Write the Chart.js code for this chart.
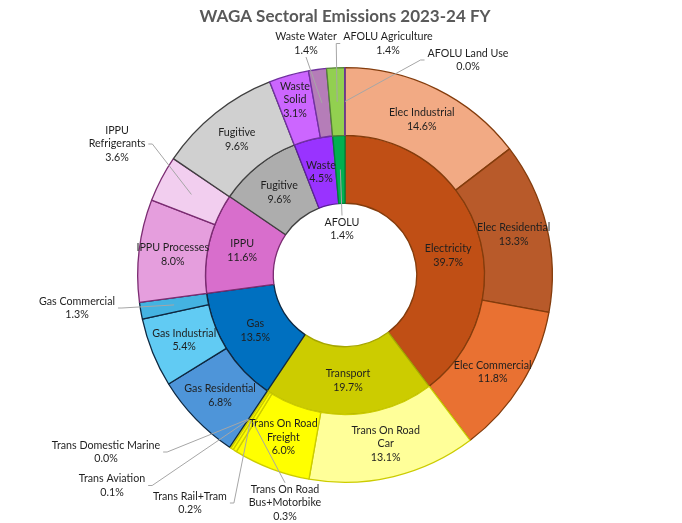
<!DOCTYPE html>
<html>
<head>
<meta charset="utf-8">
<script src="https://cdn.jsdelivr.net/npm/chart.js@4.4.1/dist/chart.umd.min.js"></script>
<style>
  html, body { margin: 0; padding: 0; background: #fff; }
  #wrap { width: 682px; height: 523px; position: relative; }
</style>
</head>
<body>
<div id="wrap"><canvas id="sunburst"></canvas></div>
<script>
// Inner ring: sectors
const sectors = ['Electricity', 'Transport', 'Gas', 'IPPU', 'Fugitive', 'Waste', 'AFOLU'];
const sectorShare = [39.7, 19.7, 13.5, 11.6, 9.6, 4.5, 1.4];

// Outer ring: sub-sectors (same clockwise order)
const subSectors = [
    'Elec Industrial', 'Elec Residential', 'Elec Commercial',
    'Trans On Road Car', 'Trans On Road Freight', 'Trans On Road Bus+Motorbike',
    'Trans Rail+Tram', 'Trans Aviation', 'Trans Domestic Marine',
    'Gas Residential', 'Gas Industrial', 'Gas Commercial',
    'IPPU Processes', 'IPPU Refrigerants',
    'Fugitive',
    'Waste Solid', 'Waste Water',
    'AFOLU Agriculture', 'AFOLU Land Use'
];
const subShare = [14.6, 13.3, 11.8, 13.1, 6.0, 0.3, 0.2, 0.1, 0.02, 6.8, 5.4, 1.3, 8.0, 3.6, 9.6, 3.1, 1.4, 1.4, 0.02];

// colours
const sectorColors = ['#C04F15', '#CCCC00', '#0070C0', '#D86ECC', '#ADADAD', '#9933FF', '#00B050'];
const sectorBorders = ['#843C0C', '#A6A600', '#0E2841', '#7B2C72', '#404040', '#5B1F9A', '#00803A'];
const subColors = [
    '#F2AA84', '#B85A2A', '#E97132',
    '#FFFF99', '#FFFF00', '#FFFF00', '#FFFF00', '#FFFF00', '#FFFF00',
    '#4E95D9', '#61CBF3', '#44B3E1',
    '#E59EDD', '#F2CEEF',
    '#D0D0D0',
    '#CC66FF', '#B57DB8',
    '#92D050', '#7030A0'
];
const subBorders = [
    '#843C0C', '#843C0C', '#843C0C',
    '#CCCC00', '#CCCC00', '#CCCC00', '#CCCC00', '#CCCC00', '#CCCC00',
    '#0E2841', '#0E2841', '#0E2841',
    '#7B2C72', '#7B2C72',
    '#404040',
    '#7030A0', '#7030A0',
    '#548235', '#7030A0'
];

// labels that break over two lines
const wrapped = {
    'Trans On Road Car': ['Trans On Road', 'Car'],
    'Trans On Road Freight': ['Trans On Road', 'Freight'],
    'Trans On Road Bus+Motorbike': ['Trans On Road', 'Bus+Motorbike'],
    'Waste Solid': ['Waste', 'Solid'],
    'IPPU Refrigerants': ['IPPU', 'Refrigerants']
};

// labels placed outside the slice with a leader line (offset from chart centre)
const callouts = {
    'Waste Water': [-39, -231.5],
    'AFOLU Agriculture': [43, -231.5],
    'AFOLU Land Use': [123, -215],
    'IPPU Refrigerants': [-228, -131],
    'Gas Commercial': [-268, 33],
    'Trans Domestic Marine': [-239, 177],
    'Trans Aviation': [-233, 210.5],
    'Trans Rail+Tram': [-155, 228],
    'Trans On Road Bus+Motorbike': [-60, 228],
    'AFOLU': [-3, -46]
};
// small shifts where Excel placed a label off the slice centre
const nudges = {
    'Electricity': [3, 14],
    'Elec Commercial': [0, 6],
    'Waste Solid': [-3, -8]
};

const FONT = '10.7px Lato';
const LINE_H = 13.5;

const sliceLabels = {
    id: 'sliceLabels',
    afterDatasetsDraw(chart) {
        const ctx = chart.ctx;
        ctx.save();
        ctx.font = FONT;
        ctx.textAlign = 'center';
        ctx.textBaseline = 'middle';
        chart.data.datasets.forEach((ds, di) => {
            const meta = chart.getDatasetMeta(di);
            meta.data.forEach((arc, i) => {
                const p = arc.getProps(['x', 'y', 'startAngle', 'endAngle', 'innerRadius', 'outerRadius'], true);
                const mid = (p.startAngle + p.endAngle) / 2;
                const r = (p.innerRadius + p.outerRadius) / 2;
                const tx = p.x + Math.cos(mid) * r;
                const ty = p.y + Math.sin(mid) * r;
                const name = ds.names[i];
                const lines = (wrapped[name] || [name]).concat(ds.data[i].toFixed(1) + '%');
                let lx, ly;
                const co = callouts[name];
                if (co) {
                    lx = p.x + co[0];
                    ly = p.y + co[1];
                    const w = Math.max(...lines.map(l => ctx.measureText(l).width));
                    const left = lx - w / 2, right = lx + w / 2;
                    const top = ly - lines.length * LINE_H / 2, bottom = ly + lines.length * LINE_H / 2;
                    ctx.strokeStyle = '#A6A6A6';
                    ctx.lineWidth = 1;
                    ctx.beginPath();
                    if (tx > right + 4) {
                        ctx.moveTo(right + 3, ly);
                        ctx.lineTo(right + 7, ly);
                    } else if (tx < left - 4) {
                        ctx.moveTo(left - 3, ly);
                        ctx.lineTo(left - 7, ly);
                    } else if (ty < top) {
                        ctx.moveTo(lx, top);
                    } else {
                        ctx.moveTo(lx, bottom);
                    }
                    ctx.lineTo(tx, ty);
                    ctx.stroke();
                } else {
                    const n = nudges[name] || [0, 0];
                    lx = tx + n[0];
                    ly = ty + n[1];
                }
                ctx.fillStyle = '#1F1F1F';
                lines.forEach((l, k) => {
                    ctx.fillText(l, lx, ly + (k - (lines.length - 1) / 2) * LINE_H);
                });
            });
        });
        // title
        const ca = chart.chartArea;
        ctx.font = 'bold 17px Lato';
        ctx.fillStyle = '#595959';
        ctx.fillText('WAGA Sectoral Emissions 2023-24 FY', (ca.left + ca.right) / 2, 17);
        ctx.restore();
    }
};

new Chart(document.getElementById('sunburst'), {
    type: 'doughnut',
    data: {
        labels: subSectors,
        datasets: [
            {
                names: subSectors,
                data: subShare,
                backgroundColor: subColors,
                borderColor: subBorders,
                borderWidth: 1.3
            },
            {
                names: sectors,
                data: sectorShare,
                backgroundColor: sectorColors,
                borderColor: sectorBorders,
                borderWidth: 1.3
            }
        ]
    },
    options: {
        responsive: true,
        maintainAspectRatio: false,
        animation: false,
        cutout: '34.6%',
        layout: { padding: { top: 67, bottom: 40, left: 10, right: 2 } },
        plugins: {
            legend: { display: false },
            tooltip: { enabled: false },
            title: { display: false }
        }
    },
    plugins: [sliceLabels]
});
</script>
</body>
</html>
